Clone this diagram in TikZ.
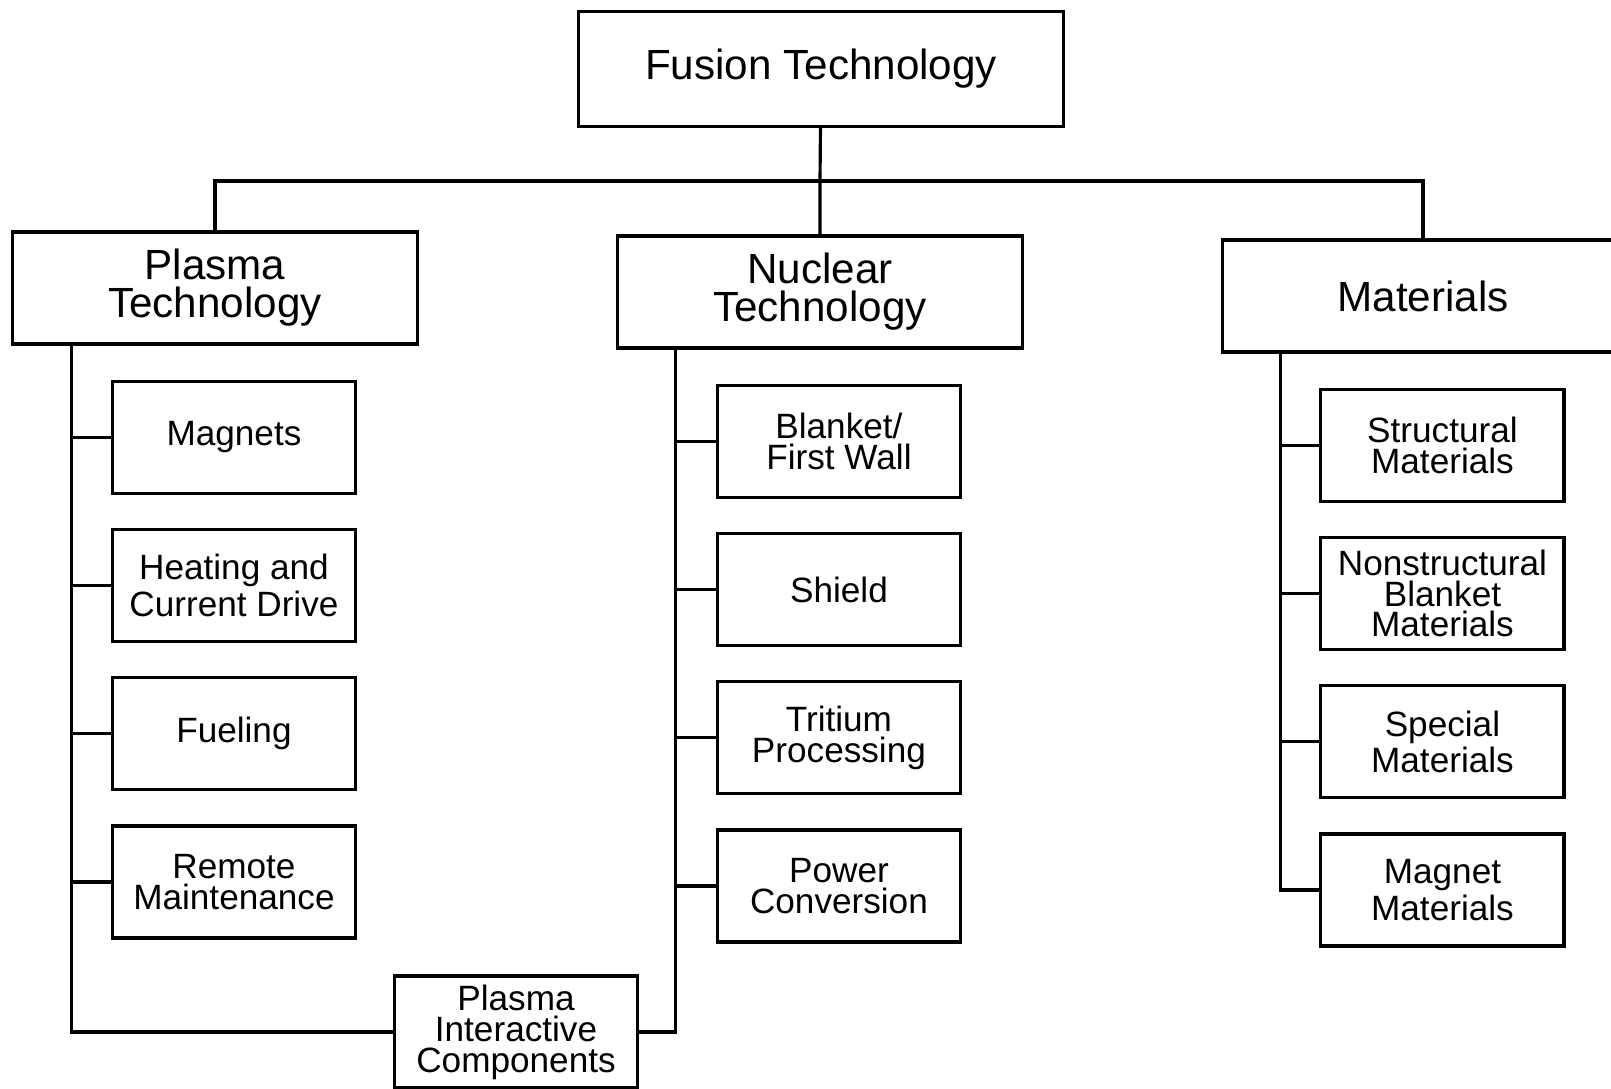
\documentclass[tikz,border=0pt]{standalone}
\usepackage{fontspec}
\setmainfont{Liberation Sans}
\usetikzlibrary{positioning, calc}

\begin{document}
\begin{tikzpicture}[x=0.01cm, y=-0.01cm, line width=0.9pt,
    topbox/.style={draw, align=center, minimum width=4.05cm, minimum height=1.12cm,
                   font=\fontsize{12}{10.8}\selectfont},
    subbox/.style={draw, align=center, minimum width=2.43cm, minimum height=1.12cm,
                   inner sep=1pt, font=\fontsize{10}{8.8}\selectfont},
    node distance=0.33cm]
    \useasboundingbox (0,0) rectangle (1611,1089);
    \clip (0,0) rectangle (1611,1089);

    % Top level and the three branches
    \node[topbox, minimum width=4.85cm, minimum height=1.15cm] (fusion) at (821,69) {Fusion Technology};
    \node[topbox] (plasma) at (215,288) {Plasma\\Technology};
    \node[topbox] (nuclear) at (820,292) {Nuclear\\Technology};
    \node[topbox, minimum width=4.0cm] (materials) at (1423,296) {Materials};

    \coordinate (bus) at (820,181);
    \draw (fusion) -- (bus) -- (nuclear);
    \draw (plasma.north) |- (bus) -| (materials.north);

    % Plasma technology column
    \node[subbox, anchor=north west] (magnets) at ($(plasma.south west)+(100,34)$) {Magnets};
    \node[subbox, below=of magnets] (heating) {Heating and\\Current Drive};
    \node[subbox, below=of heating] (fueling) {Fueling};
    \node[subbox, below=of fueling] (remote) {Remote\\Maintenance};

    % Nuclear technology column
    \node[subbox, anchor=north west] (blanket) at ($(nuclear.south west)+(100,34)$) {Blanket/\\First Wall};
    \node[subbox, below=of blanket] (shield) {Shield};
    \node[subbox, below=of shield] (tritium) {Tritium\\Processing};
    \node[subbox, below=of tritium] (power) {Power\\Conversion};

    % Materials column
    \node[subbox, anchor=north west] (structural) at ($(materials.south west)+(98,34)$) {Structural\\Materials};
    \node[subbox, below=of structural] (nonstruct) {Nonstructural\\Blanket\\Materials};
    \node[subbox, below=of nonstruct] (special) {Special\\Materials};
    \node[subbox, below=of special] (magmat) {Magnet\\Materials};

    % Shared box at the bottom
    \node[subbox] (pic) at (516,1032) {Plasma\\Interactive\\Components};

    % Trunks and branch ticks
    \coordinate (ptrunk) at ($(plasma.south west)+(61,0)$);
    \coordinate (ntrunk) at ($(nuclear.south west)+(60,0)$);
    \coordinate (mtrunk) at ($(materials.south west)+(59,0)$);

    \draw (ptrunk) |- (pic.west);
    \draw (ntrunk) |- (pic.east);
    \draw (mtrunk) |- (magmat.west);

    \foreach \n in {magnets, heating, fueling, remote}
        \draw (\n.west) -- (\n.west -| ptrunk);
    \foreach \n in {blanket, shield, tritium, power}
        \draw (\n.west) -- (\n.west -| ntrunk);
    \foreach \n in {structural, nonstruct, special}
        \draw (\n.west) -- (\n.west -| mtrunk);
\end{tikzpicture}
\end{document}
